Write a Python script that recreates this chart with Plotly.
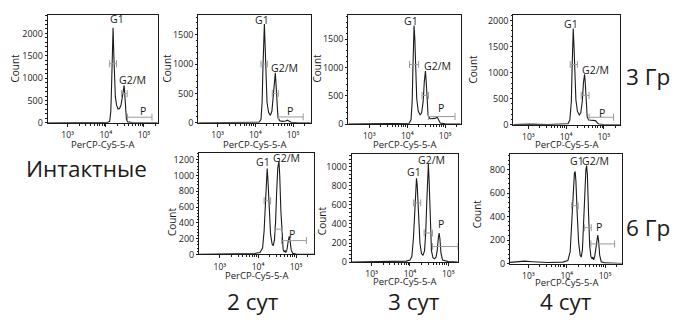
import plotly.graph_objects as go

W, H = 673, 324

# ---------------- DATA ----------------
# log10 of PerCP-Cy5-5-A intensity and event counts for each histogram
intact_log = [2.48, 3.0, 3.5, 3.9, 4.05, 4.10, 4.13, 4.15, 4.17, 4.19, 4.21, 4.23, 4.25, 4.28, 4.32,
              4.36, 4.40, 4.43, 4.46, 4.48, 4.50, 4.52, 4.54, 4.57, 4.70, 5.0, 5.36]
intact_count = [0, 2, 3, 5, 10, 30, 250, 800, 1600, 2130, 1500, 900, 580, 400, 310,
                320, 400, 560, 780, 837, 600, 280, 80, 20, 8, 3, 0]

gy3_d2_log = [2.49, 3.0, 3.5, 3.9, 4.10, 4.15, 4.18, 4.20, 4.22, 4.24, 4.26, 4.28, 4.31, 4.35, 4.40,
              4.44, 4.47, 4.50, 4.53, 4.55, 4.57, 4.60, 4.65, 4.72, 4.80, 4.86, 4.90, 4.95, 5.1, 5.47]
gy3_d2_count = [0, 2, 3, 5, 10, 60, 350, 900, 1450, 1683, 1300, 750, 350, 180, 127,
                200, 450, 750, 850, 650, 300, 90, 35, 25, 30, 45, 25, 8, 3, 0]

gy3_d3_log = [2.45, 3.0, 3.5, 3.9, 4.05, 4.10, 4.13, 4.15, 4.17, 4.18, 4.20, 4.22, 4.25, 4.29, 4.34,
              4.38, 4.42, 4.45, 4.48, 4.50, 4.52, 4.55, 4.60, 4.68, 4.74, 4.79, 4.83, 4.87, 5.0, 5.41]
gy3_d3_count = [0, 3, 4, 6, 15, 80, 400, 1000, 1600, 1741, 1500, 900, 450, 230, 160,
                200, 400, 750, 936, 750, 380, 150, 95, 95, 100, 125, 70, 20, 5, 0]

gy3_d4_log = [2.60, 2.75, 2.92, 3.05, 3.5, 3.9, 4.05, 4.10, 4.14, 4.16, 4.18, 4.19, 4.21, 4.23, 4.26,
              4.30, 4.35, 4.39, 4.43, 4.46, 4.49, 4.51, 4.53, 4.56, 4.60, 4.68, 4.74, 4.78, 4.82, 4.86,
              5.0, 5.43]
gy3_d4_count = [5, 10, 22, 12, 5, 8, 20, 90, 450, 1100, 1700, 1843, 1500, 900, 480,
                260, 187, 230, 450, 800, 968, 780, 400, 150, 90, 85, 75, 80, 45, 15,
                5, 0]

gy6_d2_log = [2.45, 3.0, 3.3, 3.6, 3.9, 4.05, 4.12, 4.16, 4.19, 4.22, 4.24, 4.26, 4.29, 4.33, 4.37,
              4.40, 4.43, 4.46, 4.49, 4.52, 4.55, 4.57, 4.60, 4.63, 4.66, 4.69, 4.71, 4.73, 4.76, 4.79,
              4.82, 4.84, 4.87, 4.91, 5.0, 5.47]
gy6_d2_count = [0, 3, 5, 8, 12, 25, 80, 300, 650, 1000, 1090, 950, 550, 250, 130,
                110, 180, 400, 800, 1100, 1180, 1000, 550, 200, 60, 30, 50, 25, 60, 160,
                230, 180, 60, 15, 5, 0]

gy6_d3_log = [2.48, 3.0, 3.5, 3.9, 4.00, 4.05, 4.09, 4.12, 4.15, 4.17, 4.19, 4.22, 4.26, 4.30, 4.34,
              4.38, 4.41, 4.44, 4.46, 4.48, 4.50, 4.53, 4.56, 4.60, 4.64, 4.68, 4.71, 4.74, 4.76, 4.78,
              4.81, 4.85, 5.0, 5.245]
gy6_d3_count = [0, 3, 5, 10, 20, 60, 250, 550, 820, 880, 800, 500, 200, 90, 70,
                120, 300, 650, 900, 1030, 850, 400, 120, 45, 35, 50, 120, 250, 305, 250,
                90, 20, 5, 0]

gy6_d4_log = [2.52, 2.7, 2.9, 3.1, 3.5, 3.9, 4.03, 4.09, 4.13, 4.17, 4.20, 4.22, 4.24, 4.27, 4.31,
              4.35, 4.38, 4.41, 4.44, 4.47, 4.50, 4.52, 4.54, 4.57, 4.60, 4.63, 4.66, 4.68, 4.70, 4.73,
              4.77, 4.81, 4.83, 4.86, 4.90, 5.0, 5.45]
gy6_d4_count = [10, 15, 20, 15, 8, 12, 25, 100, 350, 650, 770, 783, 700, 450, 180,
                70, 55, 120, 350, 650, 800, 833, 750, 420, 150, 60, 40, 55, 30, 60,
                170, 242, 200, 70, 15, 5, 0]

# gates: [log lower, log upper, count level]
intact_gates = {"G1": [4.10, 4.28, 1322], "G2/M": [4.41, 4.56, 654], "P": [4.57, 5.21, 125]}
gy3_d2_gates = {"G1": [4.15, 4.32, 1000], "G2/M": [4.45, 4.61, 500], "P": [4.61, 5.27, 100]}
gy3_d3_gates = {"G1": [4.06, 4.30, 1052], "G2/M": [4.39, 4.56, 505], "P": [4.56, 5.26, 133]}
gy3_d4_gates = {"G1": [4.11, 4.30, 1155], "G2/M": [4.40, 4.61, 562], "P": [4.61, 5.26, 144]}
gy6_d2_gates = {"G1": [4.16, 4.33, 680], "G2/M": [4.44, 4.64, 320], "P": [4.62, 5.27, 175]}
gy6_d3_gates = {"G1": [4.09, 4.28, 622], "G2/M": [4.37, 4.59, 305], "P": [4.59, 5.25, 163]}
gy6_d4_gates = {"G1": [4.13, 4.30, 492], "G2/M": [4.46, 4.64, 305], "P": [4.63, 5.25, 167]}

x_tick_vals = [1e3, 1e4, 1e5]
x_tick_text = ["10³", "10⁴", "10⁵"]
x_minor_vals = [k * 10 ** e for e in (3, 4) for k in range(2, 10)] + [2e5]

row_labels = ["3 Гр", "6 Гр"]
col_labels = ["2 сут", "3 сут", "4 сут"]
intact_label = "Интактные"
x_title = "PerCP-Cy5-5-A"
y_title = "Count"

# ---------------- LAYOUT (pixel boxes etc.) ----------------
panels = [
    dict(log=intact_log, cnt=intact_count, gates=intact_gates, box=(47.7, 14, 157.7, 124.5),
         xr=(2.476, 5.36), ymax=2420, dy=500, mdy=100, xt=22,
         lab={"G1": (4.29, 2313), "G2/M": (4.71, 969), "P": (4.97, 264)}, ytl=(15, 69)),
    dict(log=gy3_d2_log, cnt=gy3_d2_count, gates=gy3_d2_gates, box=(198.3, 14, 310.7, 124.5),
         xr=(2.485, 5.47), ymax=1840, dy=500, mdy=100, xt=22,
         lab={"G1": (4.17, 1750), "G2/M": (4.77, 933), "P": (4.92, 193)}, ytl=(167, 69)),
    dict(log=gy3_d3_log, cnt=gy3_d3_count, gates=gy3_d3_gates, box=(348.3, 14, 460.7, 125.8),
         xr=(2.445, 5.41), ymax=1930, dy=500, mdy=100, xt=21,
         lab={"G1": (4.11, 1816), "G2/M": (4.79, 1022), "P": (4.88, 276)}, ytl=(317, 69)),
    dict(log=gy3_d4_log, cnt=gy3_d4_count, gates=gy3_d4_gates, box=(513.3, 14, 620, 126.5),
         xr=(2.60, 5.43), ymax=2110, dy=500, mdy=100, xt=20.5,
         lab={"G1": (4.13, 1923), "G2/M": (4.77, 1049), "P": (4.96, 232)}, ytl=(473, 69)),
    dict(log=gy6_d2_log, cnt=gy6_d2_count, gates=gy6_d2_gates, box=(199, 155, 314, 259),
         xr=(2.45, 5.47), ymax=1290, dy=200, mdy=40, xt=22,
         lab={"G1": (4.13, 1176), "G2/M": (4.75, 1227), "P": (4.89, 262)}, ytl=(172, 226)),
    dict(log=gy6_d3_log, cnt=gy6_d3_count, gates=gy6_d3_gates, box=(351.7, 156, 457.7, 266.8),
         xr=(2.48, 5.245), ymax=1140, dy=200, mdy=40, xt=20,
         lab={"G1": (4.10, 950), "G2/M": (4.57, 1078), "P": (4.82, 404)}, ytl=(322, 225)),
    dict(log=gy6_d4_log, cnt=gy6_d4_count, gates=gy6_d4_gates, box=(510, 156, 622.3, 268.3),
         xr=(2.52, 5.45), ymax=936, dy=200, mdy=40, xt=19,
         lab={"G1": (4.26, 875), "G2/M": (4.76, 875), "P": (4.85, 311)}, ytl=(477, 218)),
]

SMALL = "Open Sans, Lato, DejaVu Sans, sans-serif"
BIG = "Open Sans, Noto Sans, DejaVu Sans, sans-serif"
GATE = "#9a9a9a"
INK = "#1a1a1a"

fig = go.Figure()
annotations = []
layout = dict(width=W, height=H, margin=dict(l=0, r=0, t=0, b=0),
              paper_bgcolor="white", plot_bgcolor="white", showlegend=False)


def note(x, y, text, font, xref="paper", yref="paper", **kw):
    d = dict(x=x, y=y, xref=xref, yref=yref, text=text, showarrow=False,
             xanchor="center", yanchor="middle", font=font, borderpad=0)
    d.update(kw)
    annotations.append(d)


for i, p in enumerate(panels):
    sfx = "" if i == 0 else str(i + 1)
    xa, ya = "x" + sfx, "y" + sfx
    L, T, R, B = p["box"]
    fig.add_trace(go.Scatter(x=[10 ** v for v in p["log"]], y=p["cnt"], mode="lines",
                             line=dict(color=INK, width=1.1), xaxis=xa, yaxis=ya,
                             hoverinfo="skip"))
    for name, (lo, hi, lev) in p["gates"].items():
        fig.add_trace(go.Scatter(x=[10 ** lo, 10 ** hi], y=[lev, lev], mode="lines+markers",
                                 line=dict(color=GATE, width=1),
                                 marker=dict(symbol="line-ns-open", size=5,
                                             line=dict(color=GATE, width=1), color=GATE),
                                 xaxis=xa, yaxis=ya, hoverinfo="skip"))
    layout["xaxis" + sfx] = dict(
        type="log", range=list(p["xr"]), domain=[L / W, R / W], anchor=ya,
        showline=True, mirror=True, linecolor=INK, linewidth=1,
        ticks="outside", ticklen=3, tickcolor=INK, tickwidth=1, ticklabelstandoff=1,
        tickvals=x_tick_vals, ticktext=x_tick_text,
        tickfont=dict(family=SMALL, size=8.5, color=INK),
        minor=dict(tickvals=x_minor_vals, ticks="outside", ticklen=2, tickcolor=INK),
        showgrid=False, zeroline=False, fixedrange=True)
    layout["yaxis" + sfx] = dict(
        range=[0, p["ymax"]], domain=[1 - B / H, 1 - T / H], anchor=xa,
        showline=True, mirror=True, linecolor=INK, linewidth=1,
        ticks="outside", ticklen=2, tickcolor=INK, tickwidth=1,
        tick0=0, dtick=p["dy"], tickfont=dict(family=SMALL, size=9, color=INK),
        minor=dict(dtick=p["mdy"], ticks="outside", ticklen=1.5, tickcolor=INK),
        showgrid=False, zeroline=False, fixedrange=True)
    for name, (lx, ly) in p["lab"].items():
        note(lx, ly, name, dict(family=SMALL, size=10.5, color=INK), xref=xa, yref=ya)
    # axis titles
    note((L + R) / 2 / W, 1 - (B + p["xt"]) / H, x_title, dict(family=SMALL, size=9.5, color=INK))
    tx, ty = p["ytl"]
    note(tx / W, 1 - ty / H, y_title, dict(family=SMALL, size=10, color=INK), textangle=-90)

big = dict(family=BIG, size=22.5, color=INK)
note(86 / W, 1 - 171 / H, intact_label, big)
note(625 / W, 1 - 77 / H, row_labels[0], big, xanchor="left")
note(625 / W, 1 - 232 / H, row_labels[1], big, xanchor="left")
for cx, lab in zip([253, 414, 566], col_labels):
    note(cx / W, 0, lab, big, yanchor="bottom")

layout["annotations"] = annotations
fig.update_layout(**layout)
fig.write_html("out.html", config={"displayModeBar": False},
               post_script="document.body.style.margin='0';")
